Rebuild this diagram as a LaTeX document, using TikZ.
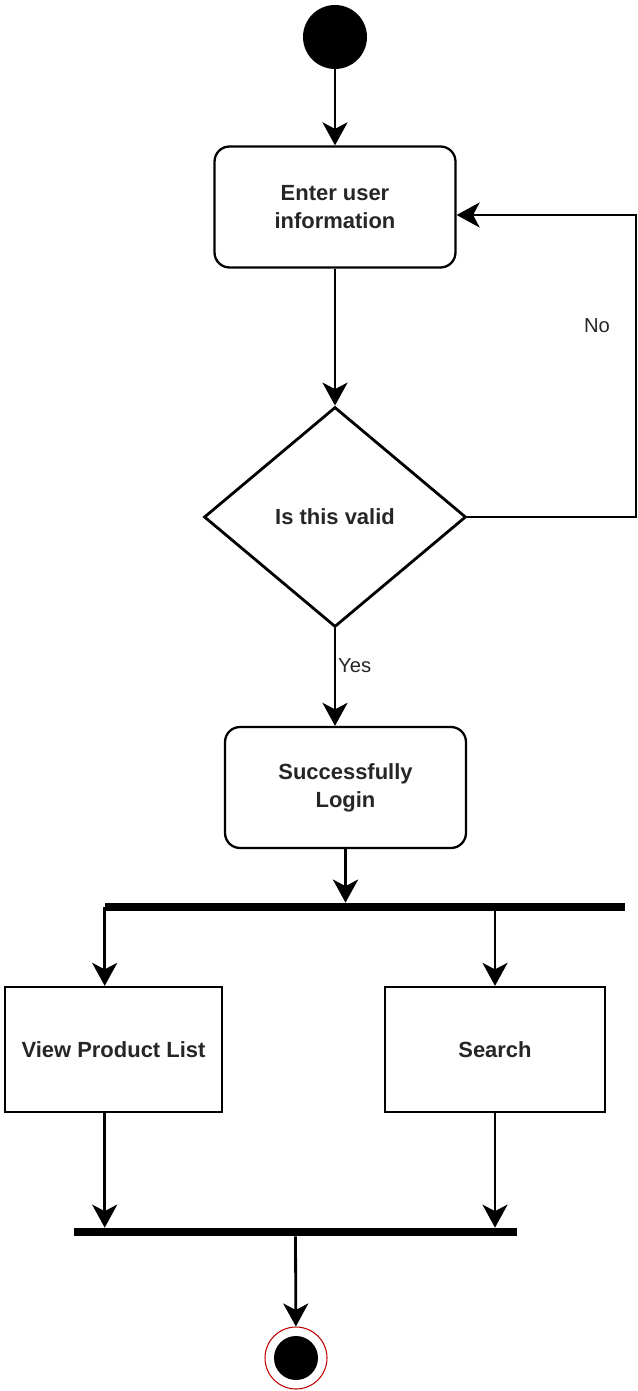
\documentclass[tikz,border=0pt]{standalone}
\usepackage{fontspec}
\setmainfont{Liberation Sans}
\usetikzlibrary{arrows.meta, shapes.geometric}

\begin{document}
\begin{tikzpicture}[
    x=0.02cm, y=-0.02cm,
    every node/.style={text=black!85},
    action/.style={draw, line width=1.3pt, rounded corners=0.3cm, minimum width=4.82cm,
        minimum height=2.42cm, align=center, font=\fontsize{12.5}{16}\selectfont\bfseries},
    task/.style={draw, line width=1.3pt, minimum height=2.5cm, align=center,
        font=\fontsize{12.5}{16}\selectfont\bfseries},
    decision/.style={draw, diamond, line width=1.6pt, inner sep=0pt, minimum width=5.24cm,
        minimum height=4.4cm, font=\fontsize{12.5}{16}\selectfont\bfseries},
    bar/.style={fill=black, inner sep=0pt, minimum height=0.16cm},
    initial/.style={circle, fill=black, minimum size=1.28cm, inner sep=0pt},
    final/.style={circle, draw=red!75!black, line width=0.6pt, minimum size=1.24cm, inner sep=0pt,
        path picture={\fill[black] (path picture bounding box.center) circle (0.44cm);}},
    guard/.style={font=\fontsize{11.5}{14}\selectfont},
    flow/.style={line width=1.6pt, -{Stealth[length=4.6mm, width=5mm, inset=1.3mm]}}
]
\useasboundingbox (0,0) rectangle (638,1391);

% =========================
% LOGIN
% =========================
\node[initial] (start) at (335,37) {};
\node[action] (enter) at (335,207) {Enter user\\information};
\node[decision] (valid) at (335,517) {Is this valid};
\node[action] (login) at (345.5,787.5) {Successfully\\Login};
\coordinate (nobend) at (636,215);

\draw[flow] (start) -- (enter);
\draw[flow] (enter) -- (valid);
\draw[flow] (valid.east) -| (nobend) -- (enter.east |- nobend);
\node[guard] (no) at (597,326) {No};
\draw[flow] (valid.south) -- (valid.south |- login.north)
    node[guard, pos=0.38, right, inner sep=1pt] (yes) {Yes};

% =========================
% FORK / JOIN
% =========================
\node[bar, minimum width=10.4cm] (fork) at (365,907) {};
\node[task, minimum width=4.34cm] (view) at (113.5,1049.5) {View Product List};
\node[task, minimum width=4.4cm] (search) at (495,1049.5) {Search};
\node[bar, minimum width=8.86cm] (join) at (295.5,1232) {};
\node[final] (end) at (296,1358) {};

\draw[flow, line width=2.2pt] (login.south) -- (login.south |- fork.north);
\draw[flow] (fork.west) -- (fork.west |- view.north);
\draw[flow] (fork.south -| search.north) -- (search.north);
\draw[flow] (view.south -| fork.west) -- (fork.west |- join.north);
\draw[flow] (search.south) -- (search.south |- join.north);
\draw[flow] (join.south) -- (end);
\end{tikzpicture}
\end{document}
